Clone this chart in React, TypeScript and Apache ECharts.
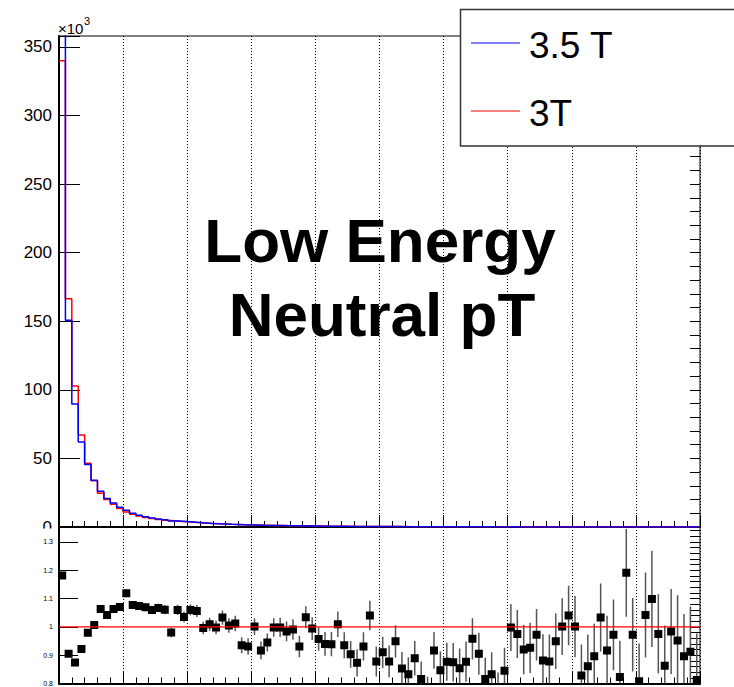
import React, { useEffect, useRef } from "react";
import * as echarts from "echarts";

// Bin contents (x10^3 entries), 100 bins
const red3T = [
  340, 166.5, 102.8, 67.0, 46.5, 33.8, 24.6, 20.0, 16.5, 13.5,
  11.0, 9.3, 8.0, 7.0, 6.2, 5.5, 4.9, 4.5, 4.1, 3.8,
  3.4, 3.1, 2.85, 2.6, 2.4, 2.2, 2.0, 1.85, 1.7, 1.58,
  1.45, 1.35, 1.25, 1.15, 1.07, 0.99, 0.92, 0.86, 0.8, 0.74,
  0.69, 0.64, 0.6, 0.56, 0.52, 0.485, 0.45, 0.42, 0.39, 0.365,
  0.34, 0.32, 0.3, 0.28, 0.26, 0.245, 0.23, 0.215, 0.2, 0.19,
  0.178, 0.167, 0.157, 0.148, 0.139, 0.131, 0.123, 0.116, 0.109, 0.103,
  0.097, 0.092, 0.087, 0.082, 0.078, 0.074, 0.07, 0.066, 0.063, 0.06,
  0.057, 0.054, 0.051, 0.049, 0.046, 0.044, 0.042, 0.04, 0.038, 0.036,
  0.034, 0.033, 0.031, 0.03, 0.028, 0.027, 0.026, 0.025, 0.024, 0.023,
];
const blue35T = [
  401, 150.7, 89.6, 61.9, 45.5, 34.0, 26.1, 20.8, 17.5, 14.4,
  12.3, 10.0, 8.6, 7.5, 6.6, 5.9, 5.2, 4.4, 4.35, 3.93,
  3.6, 3.27, 2.84, 2.62, 2.4, 2.27, 2.01, 1.87, 1.59, 1.47,
  1.45, 1.24, 1.18, 1.15, 1.07, 0.97, 0.91, 0.8, 0.83, 0.74,
  0.66, 0.6, 0.56, 0.57, 0.49, 0.44, 0.39, 0.39, 0.41, 0.32,
  0.31, 0.28, 0.285, 0.24, 0.22, 0.22, 0.19, 0.165, 0.18, 0.16,
  0.155, 0.146, 0.134, 0.129, 0.133, 0.119, 0.1, 0.097, 0.083, 0.087,
  0.097, 0.09, 0.08, 0.076, 0.076, 0.065, 0.061, 0.063, 0.063, 0.062,
  0.057, 0.045, 0.044, 0.044, 0.048, 0.04, 0.041, 0.033, 0.045, 0.035,
  0.027, 0.034, 0.034, 0.029, 0.024, 0.027, 0.025, 0.022, 0.022, 0.019,
];
// Ratio 3.5 T / 3 T per bin
const ratio = [
  1.182, 0.905, 0.874, 0.922, 0.979, 1.007, 1.063, 1.042, 1.063, 1.07,
  1.119, 1.077, 1.074, 1.069, 1.06, 1.067, 1.061, 0.98, 1.06, 1.035,
  1.06, 1.056, 0.996, 1.009, 0.998, 1.033, 1.005, 1.012, 0.935, 0.931,
  1.001, 0.917, 0.945, 0.998, 0.998, 0.984, 0.991, 0.931, 1.034, 0.994,
  0.957, 0.94, 0.939, 1.009, 0.935, 0.903, 0.873, 0.931, 1.04, 0.878,
  0.91, 0.878, 0.949, 0.853, 0.833, 0.889, 0.816, 0.76, 0.917, 0.847,
  0.877, 0.875, 0.854, 0.877, 0.958, 0.905, 0.816, 0.833, 0.76, 0.845,
  0.998, 0.975, 0.92, 0.926, 0.972, 0.881, 0.878, 0.949, 1.001, 1.04,
  1.001, 0.828, 0.861, 0.896, 1.033, 0.917, 0.972, 0.823, 1.191, 0.972,
  0.808, 1.042, 1.099, 0.975, 0.863, 0.984, 0.952, 0.896, 0.912, 0.812,
];
const ratioErr = [
  0.002, 0.003, 0.003, 0.004, 0.005, 0.006, 0.007, 0.008, 0.009, 0.01,
  0.011, 0.012, 0.013, 0.014, 0.015, 0.015, 0.016, 0.017, 0.018, 0.019,
  0.02, 0.021, 0.022, 0.023, 0.024, 0.025, 0.026, 0.027, 0.028, 0.029,
  0.03, 0.031, 0.032, 0.033, 0.034, 0.035, 0.036, 0.038, 0.039, 0.04,
  0.041, 0.042, 0.043, 0.045, 0.046, 0.047, 0.048, 0.05, 0.052, 0.053,
  0.055, 0.056, 0.057, 0.058, 0.06, 0.061, 0.062, 0.064, 0.065, 0.066,
  0.067, 0.068, 0.07, 0.071, 0.073, 0.074, 0.075, 0.077, 0.079, 0.081,
  0.083, 0.085, 0.087, 0.089, 0.091, 0.093, 0.095, 0.098, 0.1, 0.105,
  0.108, 0.11, 0.112, 0.115, 0.12, 0.122, 0.125, 0.128, 0.155, 0.13,
  0.133, 0.15, 0.17, 0.14, 0.142, 0.15, 0.16, 0.15, 0.16, 0.165,
];
const legendNames = ["3.5 T", "3T"];
const titleLines = ["Low Energy", "Neutral pT"];

const FONT = "Liberation Sans, Arial, Helvetica, sans-serif";

function stepData(vals: number[]) {
  const d: number[][] = vals.map((v, i) => [i, v]);
  d.push([vals.length, vals[vals.length - 1]]);
  return d;
}

export default function App() {
  const ref = useRef<HTMLDivElement>(null);
  useEffect(() => {
    if (!ref.current) return;
    const chart = echarts.init(ref.current, null, { renderer: "svg" });
    const left = 59;
    const right = 34;
    const xAxisBase = {
      type: "value" as const,
      min: 0,
      max: 100,
      interval: 10,
      axisLine: { show: true, lineStyle: { color: "#000", width: 2 } },
      axisTick: { show: true, inside: true, length: 12, lineStyle: { color: "#000", width: 1 } },
      minorTick: { show: true, splitNumber: 5, length: 6, lineStyle: { color: "#000", width: 1 } },
      axisLabel: { show: false },
      splitLine: { show: true, lineStyle: { color: "#000", type: [1, 2], width: 1 } },
    };
    const option: any = {
      animation: false,
      backgroundColor: "#fff",
      grid: [
        { left, right, top: 36, height: 491, show: true, borderColor: "#000", borderWidth: 1 },
        { left, right, top: 527, height: 158, show: true, borderColor: "#000", borderWidth: 1 },
      ],
      xAxis: [
        { ...xAxisBase, gridIndex: 0 },
        { ...xAxisBase, gridIndex: 1 },
      ],
      yAxis: [
        {
          type: "value", gridIndex: 0, min: 0, max: 358, interval: 50,
          axisLine: { show: true, lineStyle: { color: "#000", width: 2 } },
          axisTick: { show: true, inside: true, length: 21, lineStyle: { color: "#000", width: 1 } },
          axisLabel: {
            show: true, fontSize: 17, color: "#000", fontFamily: FONT, margin: 7,
            formatter: (v: number) => (Math.abs(v % 50) < 1e-6 ? String(v) : ""),
          },
          splitLine: { show: false },
        },
        {
          type: "value", gridIndex: 0, min: 0, max: 358, interval: 10,
          axisLine: { show: false },
          axisTick: { show: true, inside: true, length: 10, lineStyle: { color: "#000", width: 1 } },
          axisLabel: { show: false },
          splitLine: { show: false },
        },
        {
          type: "value", gridIndex: 1, min: 0.8, max: 1.353, interval: 0.1,
          axisLine: { show: true, lineStyle: { color: "#000", width: 2 } },
          axisTick: { show: true, inside: true, length: 19, lineStyle: { color: "#000", width: 1 } },
          axisLabel: {
            show: true, fontSize: 7, color: "#000", fontFamily: FONT, margin: 6,
            formatter: (v: number) => {
              const r = Math.round(v * 10) / 10;
              return Math.abs(r - v) < 1e-6 ? String(r) : "";
            },
          },
          splitLine: { show: false },
        },
        {
          type: "value", gridIndex: 1, min: 0.8, max: 1.353, interval: 0.02,
          axisLine: { show: false },
          axisTick: { show: true, inside: true, length: 10, lineStyle: { color: "#000", width: 1 } },
          axisLabel: { show: false },
          splitLine: { show: false },
        },
      ],
      series: [
        {
          name: legendNames[0], type: "line", xAxisIndex: 0, yAxisIndex: 0,
          step: "end", symbol: "none", data: stepData(blue35T), clip: true,
          lineStyle: { color: "#0000ff", width: 1.5 }, z: 3,
        },
        {
          name: legendNames[1], type: "line", xAxisIndex: 0, yAxisIndex: 0,
          step: "end", symbol: "none", data: stepData(red3T), clip: true,
          lineStyle: { color: "#ff0000", width: 1.5 }, z: 2,
        },
        {
          type: "custom", xAxisIndex: 1, yAxisIndex: 2, clip: true,
          data: ratio.map((r, i) => [i + 0.5, r, ratioErr[i]]),
          renderItem: (params: any, api: any) => {
            const x = api.value(0);
            const y = api.value(1);
            const e = api.value(2);
            const c = api.coord([x, y]);
            const t = api.coord([x, y + e]);
            const b = api.coord([x, y - e]);
            return {
              type: "group",
              children: [
                { type: "line", shape: { x1: c[0], y1: t[1], x2: c[0], y2: b[1] }, style: { stroke: "#555", lineWidth: 1.5 } },
                { type: "rect", shape: { x: c[0] - 4, y: c[1] - 4, width: 8, height: 8 }, style: { fill: "#000" } },
              ],
            };
          },
          z: 3,
        },
        {
          type: "line", xAxisIndex: 1, yAxisIndex: 2, symbol: "none",
          data: [[0, 1], [100, 1]], lineStyle: { color: "#ff0000", width: 1.2 }, z: 4,
        },
      ],
      graphic: [
        { type: "rect", z: 100, shape: { x: 0, y: 528.5, width: 57, height: 10 }, style: { fill: "#fff" } },
        { type: "text", z: 100, x: 58, y: 21, style: { text: "×10", fontSize: 15, fontFamily: FONT, fill: "#000" } },
        { type: "text", z: 100, x: 84, y: 15, style: { text: "3", fontSize: 11, fontFamily: FONT, fill: "#000" } },
        {
          type: "text", z: 100, x: 380, y: 240,
          style: { text: titleLines[0], fontSize: 62, fontWeight: "bold", fontFamily: FONT, fill: "#000", align: "center", verticalAlign: "middle" },
        },
        {
          type: "text", z: 100, x: 382, y: 314,
          style: { text: titleLines[1], fontSize: 62, fontWeight: "bold", fontFamily: FONT, fill: "#000", align: "center", verticalAlign: "middle" },
        },
        { type: "rect", z: 100, shape: { x: 460.5, y: 9.5, width: 300, height: 136.5 }, style: { fill: "#fff", stroke: "#333", lineWidth: 1.5 } },
        { type: "line", z: 101, shape: { x1: 471, y1: 43, x2: 520, y2: 43 }, style: { stroke: "#0000ff", lineWidth: 1.2 } },
        { type: "line", z: 101, shape: { x1: 471, y1: 111, x2: 520, y2: 111 }, style: { stroke: "#ff0000", lineWidth: 1.2 } },
        {
          type: "text", z: 101, x: 529, y: 45,
          style: { text: legendNames[0], fontSize: 37, fontFamily: FONT, fill: "#000", verticalAlign: "middle" },
        },
        {
          type: "text", z: 101, x: 529, y: 113,
          style: { text: legendNames[1], fontSize: 37, fontFamily: FONT, fill: "#000", verticalAlign: "middle" },
        },
      ],
    };
    chart.setOption(option);
    return () => chart.dispose();
  }, []);
  return (
    <div
      ref={ref}
      style={{ position: "fixed", left: 0, top: 0, width: 734, height: 687, background: "#fff" }}
    />
  );
}
